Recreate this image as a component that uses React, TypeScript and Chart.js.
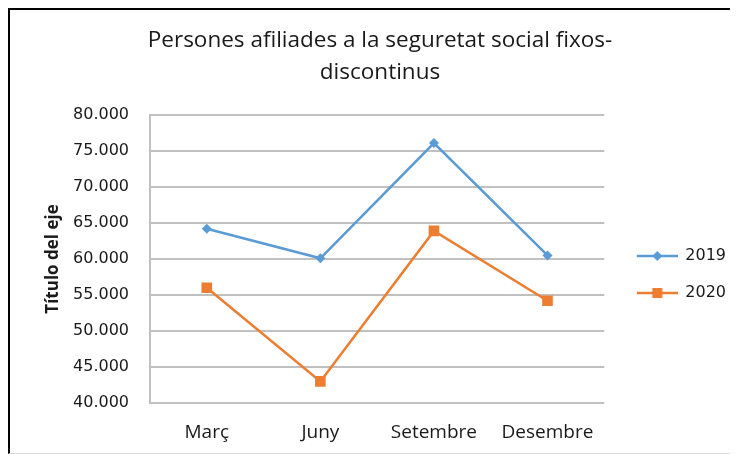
import React, { useEffect, useRef } from 'react';
import { Chart, registerables } from 'chart.js';

Chart.register(...registerables);

const categories = ['Març', 'Juny', 'Setembre', 'Desembre'];
const seriesNames = ['2019', '2020'];
const values2019 = [64200, 60100, 76100, 60500];
const values2020 = [56000, 43000, 63900, 54200];
const titleLines = ['Persones afiliades a la seguretat social fixos-', 'discontinus'];
const yAxisTitle = 'Título del eje';
const yMin = 40000;
const yMax = 80000;
const yStep = 5000;

const BLUE = '#5B9BD5';
const ORANGE = '#ED7D31';
const TEXT = '#1a1a1a';
const GRID = '#c0c0c0';

function makeLegendIcon(color: string, kind: 'diamond' | 'square') {
  const c = document.createElement('canvas');
  c.width = 53;
  c.height = 14;
  const ctx = c.getContext('2d')!;
  ctx.strokeStyle = color;
  ctx.lineWidth = 2.5;
  ctx.beginPath();
  ctx.moveTo(12, 7);
  ctx.lineTo(53, 7);
  ctx.stroke();
  ctx.fillStyle = color;
  const cx = 32.5;
  const cy = 7;
  if (kind === 'diamond') {
    ctx.beginPath();
    ctx.moveTo(cx, cy - 5);
    ctx.lineTo(cx + 5, cy);
    ctx.lineTo(cx, cy + 5);
    ctx.lineTo(cx - 5, cy);
    ctx.closePath();
    ctx.fill();
  } else {
    ctx.fillRect(cx - 5, cy - 5, 10, 10);
  }
  return c;
}

function formatThousands(v: number) {
  return String(Math.round(v)).replace(/\B(?=(\d{3})+(?!\d))/g, '.');
}

export default function App() {
  const canvasRef = useRef<HTMLCanvasElement | null>(null);

  useEffect(() => {
    document.documentElement.style.overflow = 'hidden';
    document.body.style.overflow = 'hidden';
    const canvas = canvasRef.current;
    if (!canvas) return;
    const icons = [makeLegendIcon(BLUE, 'diamond'), makeLegendIcon(ORANGE, 'square')];

    const chart = new Chart(canvas, {
      type: 'line',
      data: {
        labels: categories,
        datasets: [
          {
            label: seriesNames[0],
            data: values2019,
            borderColor: BLUE,
            backgroundColor: BLUE,
            borderWidth: 2.5,
            pointStyle: 'rectRot',
            pointRadius: 5,
            pointBorderWidth: 0,
            pointBackgroundColor: BLUE,
            tension: 0,
          },
          {
            label: seriesNames[1],
            data: values2020,
            borderColor: ORANGE,
            backgroundColor: ORANGE,
            borderWidth: 2.5,
            pointStyle: 'rect',
            pointRadius: 7.5,
            pointBorderWidth: 0,
            pointBackgroundColor: ORANGE,
            tension: 0,
          },
        ],
      },
      options: {
        responsive: false,
        animation: false,
        events: [],
        layout: { padding: { left: 14, right: 2, top: 0, bottom: 0 } },
        plugins: {
          tooltip: { enabled: false },
          title: {
            display: true,
            text: titleLines,
            color: TEXT,
            font: { family: 'Open Sans', size: 22.5, weight: 'normal', lineHeight: 32 / 22.5 },
            padding: { top: 15, bottom: 26 },
          },
          legend: {
            display: true,
            position: 'right',
            fullSize: false,
            align: 'center',
            title: {
              display: true,
              text: '',
              font: { size: 10, lineHeight: 1 },
              padding: { top: 21, bottom: 0 },
            },
            labels: {
              color: TEXT,
              font: { family: 'DejaVu Sans', size: 16 },
              padding: 21,
              usePointStyle: true,
              pointStyleWidth: 52,
              generateLabels: (ch: any) =>
                ch.data.datasets.map((ds: any, i: number) => ({
                  text: ds.label,
                  fillStyle: ds.borderColor,
                  strokeStyle: ds.borderColor,
                  lineWidth: 0,
                  pointStyle: icons[i],
                  hidden: false,
                  datasetIndex: i,
                  fontColor: TEXT,
                })),
            },
          },
        },
        scales: {
          x: {
            type: 'category',
            offset: true,
            grid: { display: false, drawTicks: false },
            border: { display: false },
            ticks: {
              color: TEXT,
              font: { family: 'Open Sans', size: 19 },
              padding: 18,
              maxRotation: 0,
            },
            afterFit: (scale: any) => {
              scale.height = 50;
            },
          },
          y: {
            min: yMin,
            max: yMax,
            grid: { color: GRID, lineWidth: 2, drawTicks: false },
            border: { display: true, color: GRID, width: 2 },
            ticks: {
              stepSize: yStep,
              color: TEXT,
              font: { family: 'DejaVu Sans', size: 16 },
              padding: 21,
              callback: (v: any) => formatThousands(Number(v)),
            },
            title: {
              display: true,
              text: yAxisTitle,
              color: TEXT,
              font: { family: 'Open Sans', size: 17, weight: 'bold' },
              padding: { top: 19, bottom: 4 },
            },
            afterFit: (scale: any) => {
              scale.width = 126;
            },
          },
        },
      },
    });
    return () => chart.destroy();
  }, []);

  return (
    <div
      style={{
        width: 730,
        height: 446,
        boxSizing: 'border-box',
        borderLeft: '2px solid #000',
        borderTop: '2px solid #000',
        borderBottom: '1px solid #d9d9d9',
        background: '#fff',
      }}
    >
      <canvas ref={canvasRef} width={728} height={443} style={{ display: 'block' }} />
    </div>
  );
}
